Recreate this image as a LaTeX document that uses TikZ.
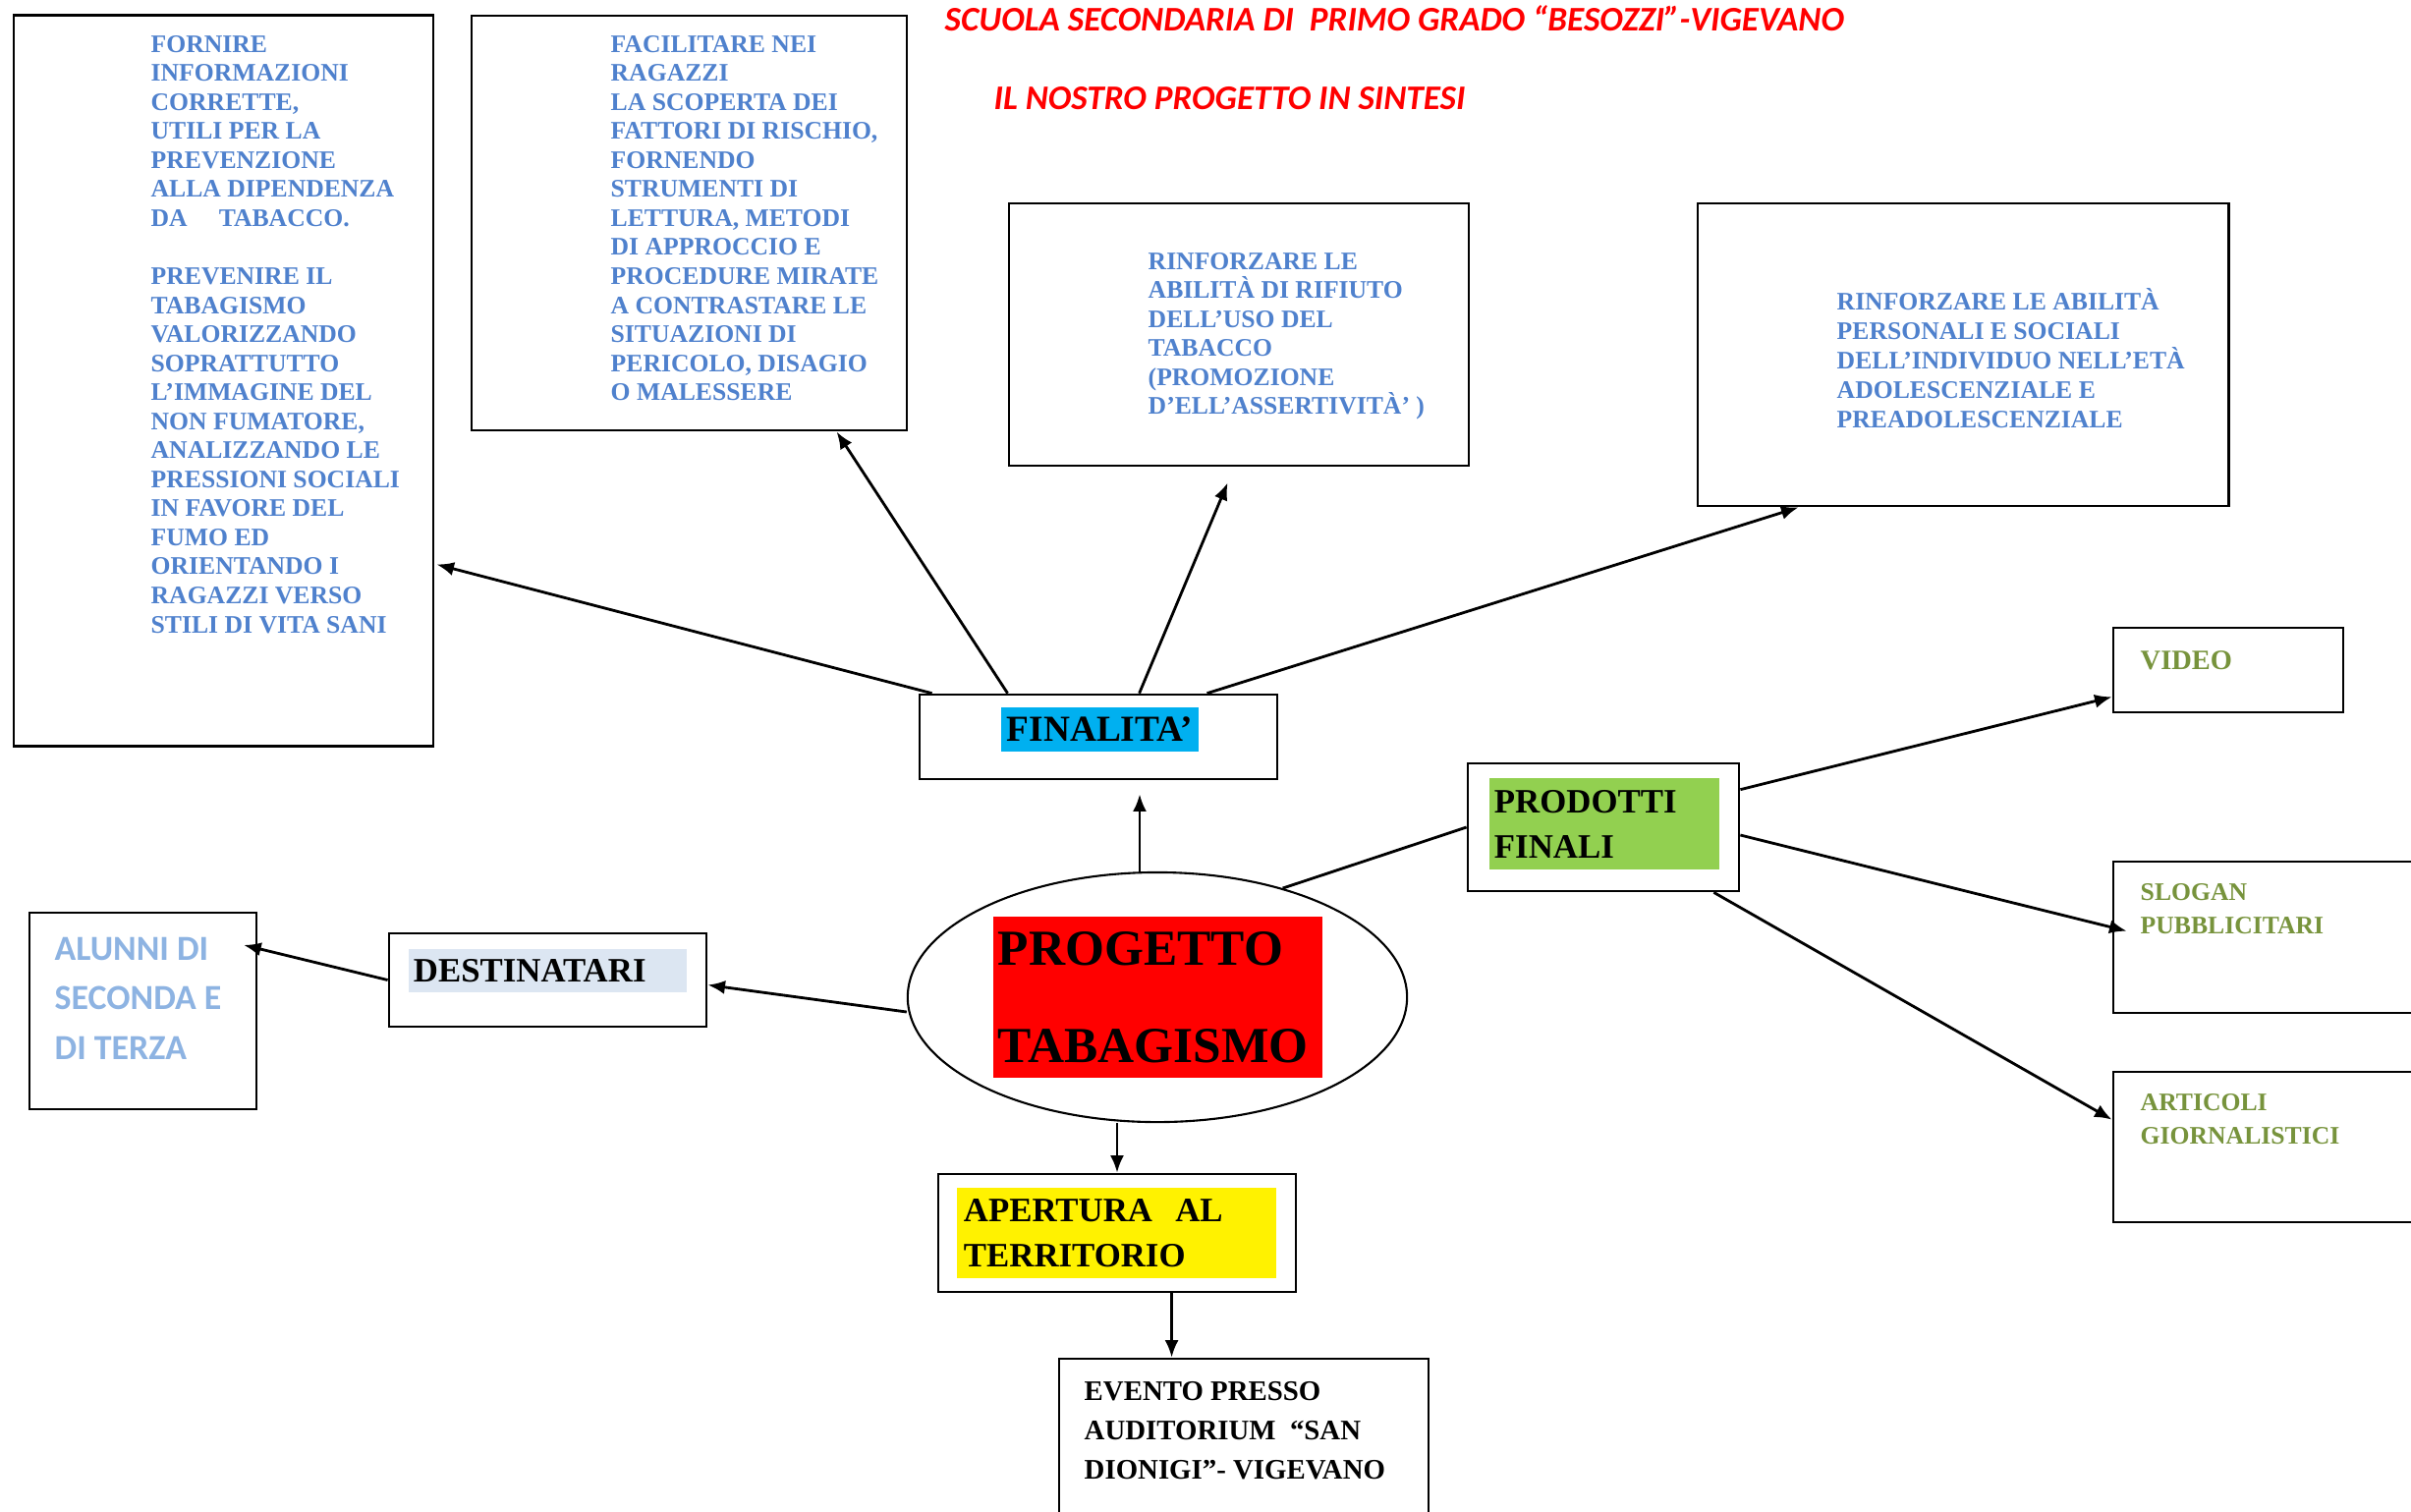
\documentclass[tikz,border=0pt]{standalone}
\usepackage{fontspec}
\setmainfont{Liberation Serif}
\newfontfamily\calibri{Carlito}
\usetikzlibrary{positioning,shapes.geometric,arrows.meta,calc}

\definecolor{txtblue}{RGB}{79,129,205}
\definecolor{lightblue}{RGB}{141,179,226}
\definecolor{prodgreen}{RGB}{119,147,60}
\definecolor{hlblue}{RGB}{0,176,240}
\definecolor{hlgray}{RGB}{220,230,242}
\definecolor{hlgreen}{RGB}{146,208,80}

\tikzset{
  box/.style={draw,line width=0.75pt,inner sep=0pt},
  arr/.style={-{Latex[length=5pt,width=4pt]},line width=0.8pt},
  bluetext/.style={anchor=north west,inner sep=0pt,align=left,text=txtblue,font=\fontsize{7.3}{8.4}\selectfont\bfseries},
  greentext/.style={anchor=north west,inner sep=0pt,align=left,text=prodgreen,font=\fontsize{7.3}{9.7}\selectfont\bfseries},
  blacktext/.style={anchor=north west,inner sep=0pt,align=left,font=\fontsize{8.2}{11.4}\selectfont\bfseries},
  title/.style={anchor=west,inner sep=0pt,text=red,font=\calibri\fontsize{10}{12}\selectfont\bfseries\itshape},
}

\begin{document}
\begin{tikzpicture}[x=0.01cm,y=-0.01cm]
\useasboundingbox (0,0) rectangle (2454,1538);

\node[title](school title) at (961,19) {SCUOLA SECONDARIA DI \ PRIMO GRADO “BESOZZI”-VIGEVANO};
\node[title](project title) at (1011,100) {IL NOSTRO PROGETTO IN SINTESI};

\node[box,minimum width=4.27cm,minimum height=7.43cm](fornire) at (227.5,387.5) {};
\node[bluetext](fornire text) at (153,35.5) {FORNIRE\\INFORMAZIONI\\CORRETTE,\\UTILI PER LA\\PREVENZIONE\\ALLA DIPENDENZA\\DA \quad TABACCO.\\[8.4pt]PREVENIRE IL\\TABAGISMO\\VALORIZZANDO\\SOPRATTUTTO\\L’IMMAGINE DEL\\NON FUMATORE,\\ANALIZZANDO LE\\PRESSIONI SOCIALI\\IN FAVORE DEL\\FUMO ED\\ORIENTANDO I\\RAGAZZI VERSO\\STILI DI VITA SANI};

\node[box,minimum width=4.43cm,minimum height=4.22cm](facilitare) at (701.5,227) {};
\node[bluetext](facilitare text) at (621,35.5) {FACILITARE NEI\\RAGAZZI\\LA SCOPERTA DEI\\FATTORI DI RISCHIO,\\FORNENDO\\STRUMENTI DI\\LETTURA, METODI\\DI APPROCCIO E\\PROCEDURE MIRATE\\A CONTRASTARE LE\\SITUAZIONI DI\\PERICOLO, DISAGIO\\O MALESSERE};

\node[box,minimum width=4.68cm,minimum height=2.67cm](rifiuto) at (1261,340.5) {};
\node[bluetext](rifiuto text) at (1168,256.5) {RINFORZARE LE\\ABILITÀ DI RIFIUTO\\DELL’USO DEL\\TABACCO\\(PROMOZIONE\\D’ELL’ASSERTIVITÀ’ )};

\node[box,minimum width=5.4cm,minimum height=3.08cm](abilita) at (1998,361) {};
\node[bluetext,font=\fontsize{7.3}{8.5}\selectfont\bfseries](abilita text) at (1869,293) {RINFORZARE LE ABILITÀ\\PERSONALI E SOCIALI\\DELL’INDIVIDUO NELL’ETÀ\\ADOLESCENZIALE E\\PREADOLESCENZIALE};

\node[box,minimum width=3.64cm,minimum height=0.86cm](finalita) at (1118,750) {};
\node[fill=hlblue,inner sep=0pt,minimum width=2.01cm,minimum height=0.45cm,font=\fontsize{10.6}{12}\selectfont\bfseries](finalita label) at (1119.5,742.5) {FINALITA’};

\node[ellipse,draw,line width=0.6pt,minimum width=5.08cm,minimum height=2.54cm,inner sep=0pt](progetto) at (1178,1015) {};
\node[fill=red,text width=3.25cm,inner xsep=0.05cm,inner ysep=0pt,minimum height=1.64cm,align=left,font=\fontsize{14.6}{28}\selectfont\bfseries](progetto label) at (1178.5,1015) {PROGETTO\\TABAGISMO};

\node[box,minimum width=3.23cm,minimum height=0.95cm](destinatari) at (557.5,997.5) {};
\node[fill=hlgray,text width=2.73cm,inner xsep=0.05cm,inner ysep=0pt,minimum height=0.44cm,align=left,font=\fontsize{9.9}{12}\selectfont\bfseries](destinatari label) at (557.5,988) {DESTINATARI};

\node[box,line width=0.6pt,minimum width=2.31cm,minimum height=2cm](alunni) at (145.5,1029) {};
\node[anchor=north west,inner sep=0pt,align=left,text=lightblue,font=\calibri\fontsize{10.2}{14.3}\selectfont\bfseries](alunni text) at (55,953.5) {ALUNNI DI\\SECONDA E\\DI TERZA};

\node[box,minimum width=3.64cm,minimum height=1.2cm](apertura) at (1137,1255) {};
\node[fill=yellow,text width=3.11cm,inner xsep=0.07cm,inner ysep=0pt,minimum height=0.92cm,align=left,font=\fontsize{9.9}{13.1}\selectfont\bfseries](apertura label) at (1136.5,1255) {APERTURA \ AL\\TERRITORIO};

\node[box,minimum width=3.76cm,minimum height=1.84cm](evento) at (1266,1475) {};
\node[blacktext](evento text) at (1103,1405.5) {EVENTO PRESSO\\AUDITORIUM \ “SAN\\DIONIGI”- VIGEVANO};

\node[box,minimum width=2.76cm,minimum height=1.3cm](prodotti) at (1632,842) {};
\node[fill=hlgreen,text width=2.24cm,inner xsep=0.05cm,inner ysep=0pt,minimum height=0.93cm,align=left,font=\fontsize{9.9}{13.1}\selectfont\bfseries](prodotti label) at (1633,838.5) {PRODOTTI\\FINALI};

\node[box,minimum width=2.34cm,minimum height=0.86cm](video) at (2268,682) {};
\node[anchor=west,inner sep=0pt,text=prodgreen,font=\fontsize{8.1}{10}\selectfont\bfseries](video text) at (2178,672) {VIDEO};

\node[box,minimum width=3.19cm,minimum height=1.54cm](slogan) at (2310.5,954) {};
\node[greentext](slogan text) at (2178,898.5) {SLOGAN\\PUBBLICITARI};

\node[box,minimum width=3.19cm,minimum height=1.53cm](articoli) at (2310.5,1167.5) {};
\node[greentext](articoli text) at (2178,1112.5) {ARTICOLI\\GIORNALISTICI};

\draw[arr] ($(finalita.north west)+(14,0)$) to ($(fornire.north east)+(2,560)$);
\draw[arr] ($(finalita.north west)+(91,0)$) to ($(facilitare.south west)+(373,0)$);
\draw[arr] ($(finalita.north west)+(225,0)$) to ($(rifiuto.south west)+(224,16)$);
\draw[arr] ($(finalita.north west)+(294,0)$) to ($(abilita.south west)+(104,0)$);

\draw[arr] ($(progetto.north)+(-18,0)$) to ($(finalita.south)+(42,14)$);
\draw[arr] (apertura.north |- progetto.south) to (apertura.north);
\draw[arr] ($(evento.north west |- apertura.south)+(116,0)$) to ($(evento.north west)+(116,0)$);
\draw[arr] ($(progetto.west)+(0,15)$) to ($(destinatari.east)+(0,5)$);
\draw[arr] (destinatari.west) to ($(alunni.north east)+(-14,34)$);

\draw[line width=0.8pt] (progetto.41) to (prodotti.west);
\draw[arr] ($(prodotti.north east)+(0,28)$) to ($(video.south west)+(0,-17)$);
\draw[arr] ($(prodotti.east)+(0,8)$) to ($(slogan.north west)+(15,72)$);
\draw[arr] ($(prodotti.south east)+(-27,0)$) to ($(articoli.north west)+(0,50)$);

\end{tikzpicture}
\end{document}
